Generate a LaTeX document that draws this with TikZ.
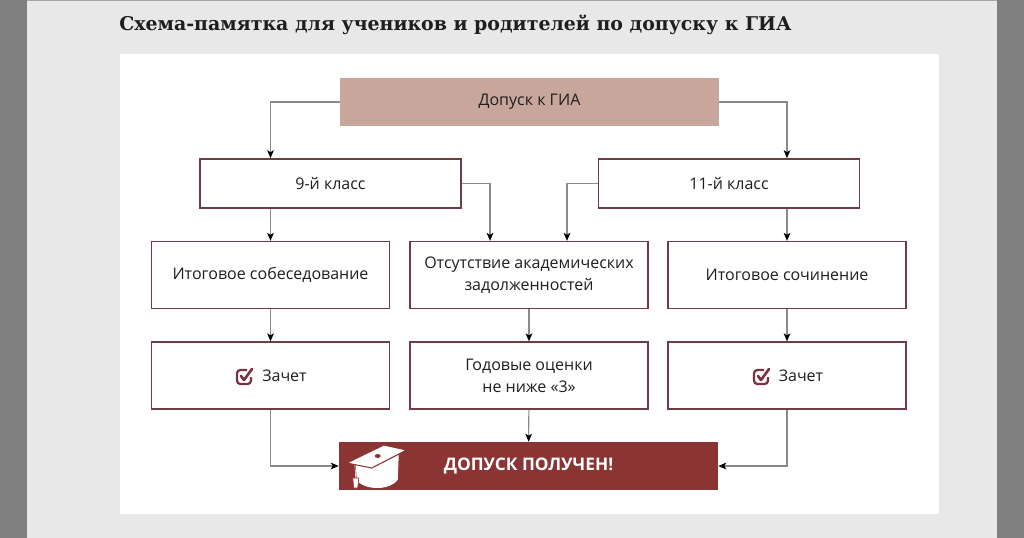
\documentclass[tikz,border=0pt]{standalone}
\usepackage{fontspec}
\setmainfont{Open Sans}
\newfontfamily\zagfont{DejaVu Serif}
\usetikzlibrary{calc,arrows.meta}

\definecolor{fon}{HTML}{E8E8E8}
\definecolor{bokovoy}{HTML}{808080}
\definecolor{ramka}{HTML}{6E3C44}
\definecolor{rozovy}{HTML}{C9A69B}
\definecolor{bordo}{HTML}{8B3434}
\definecolor{liniya}{HTML}{8A8A8A}
\definecolor{tekst}{HTML}{1E1E1E}
\definecolor{galka}{HTML}{7B3343}

\tikzset{
  box/.style={draw=ramka, line width=1.2pt, fill=white, text=tekst, align=center,
    minimum width=178.5pt, minimum height=50pt, inner sep=0pt,
    font=\fontsize{12pt}{16.5pt}\selectfont},
  klass/.style={box, minimum width=195.5pt, minimum height=36.75pt},
  strelka/.style={draw=liniya, line width=0.8pt, -{Stealth[length=6pt,width=5pt,inset=1.5pt,black]}},
  zachet/.pic={
    \draw[galka, line width=1.7pt, rounded corners=2.5pt] (3,-7) -- (-7,-7) -- (-7,7) -- (7,7) -- (7,0);
    \draw[galka, line width=2pt, line cap=round, line join=round] (-3,-1) -- (0,3) -- (8,-8);
  }
}

\begin{document}
\begin{tikzpicture}[x=0.75pt, y=-0.75pt]
\useasboundingbox (0,0) rectangle (1024,538);
% Фон
\fill[fon] (0,0) rectangle (1024,538);
\fill[bokovoy] (0,0) rectangle (27,538);
\fill[bokovoy] (997,0) rectangle (1024,538);
\fill[bokovoy!70] (27,0) rectangle (997,1.5);
\fill[white] (120,54) rectangle (939,514);
% Заголовок
\node[anchor=base west, inner sep=0pt, text=tekst, font=\zagfont\bfseries\fontsize{14.2pt}{17pt}\selectfont] (zag) at (119,31) {Схема-памятка для учеников и родителей по допуску к ГИА};
% Допуск к ГИА
\node[fill=rozovy, text=tekst, minimum width=284.25pt, minimum height=36pt, font=\fontsize{12pt}{15pt}\selectfont] (dop) at (529.5,102) {Допуск к ГИА};
% Классы
\node[klass] (k9) at (330.5,183.5) {9-й класс};
\node[klass] (k11) at (729,183.5) {11-й класс};
% Требования
\node[box] (sob) at (270.5,275) {Итоговое собеседование};
\node[box] (ots) at (529,275) {Отсутствие академических\\задолженностей};
\node[box] (soch) at (787,275) {Итоговое сочинение};
% Результаты
\node[box] (zl) at (270.5,375.5) {\hspace*{21pt}Зачет};
\node[box] (god) at (529,375.5) {Годовые оценки\\не ниже «3»};
\node[box] (zr) at (787,375.5) {\hspace*{21pt}Зачет};
\pic at ($(zl.center)+(-26.5,1.5)$) {zachet};
\pic at ($(zr.center)+(-26,1.5)$) {zachet};
% Допуск получен
\node[fill=bordo, text=white, minimum width=284.25pt, minimum height=36pt, font=\bfseries\fontsize{13pt}{15pt}\selectfont] (ok) at (528.5,466) {ДОПУСК ПОЛУЧЕН!};
% Шапочка
\begin{scope}[shift={(ok.west)}]
  \fill[white] (17,-4) -- (18,15) .. controls (29,25) and (51,24) .. (59,14) -- (60,-11) -- cycle;
  \draw[white] (16,-3) -- (17,12);
  \filldraw[fill=white, draw=bordo, line width=0.5pt] (14,12) -- (20,12) -- (19,22) -- (15,22) -- cycle;
  \filldraw[fill=white, draw=bordo, line width=0.8pt] (8,-3) -- (45,-21) -- (68,-16) -- (33,2) -- cycle;
  \fill[bordo] (39,-10) ellipse (3 and 2);
\end{scope}
% Стрелки
\draw[strelka] (dop.west) -| (k9.north -| sob.north);
\draw[strelka] (dop.east) -| (k11.north -| soch.north);
\draw[strelka] (k9.south -| sob.north) -- (sob.north);
\draw[strelka] (k11.south -| soch.north) -- (soch.north);
\draw[strelka] (k9.east) -| ($(ots.north)+(-39,0)$);
\draw[strelka] (k11.west) -| ($(ots.north)+(38,0)$);
\draw[strelka] (sob) -- (zl);
\draw[strelka] (ots) -- (god);
\draw[strelka] (soch) -- (zr);
\draw[strelka] (zl.south) |- (ok.west);
\draw[strelka] (god) -- (ok);
\draw[strelka] (zr.south) |- (ok.east);
\end{tikzpicture}
\end{document}
